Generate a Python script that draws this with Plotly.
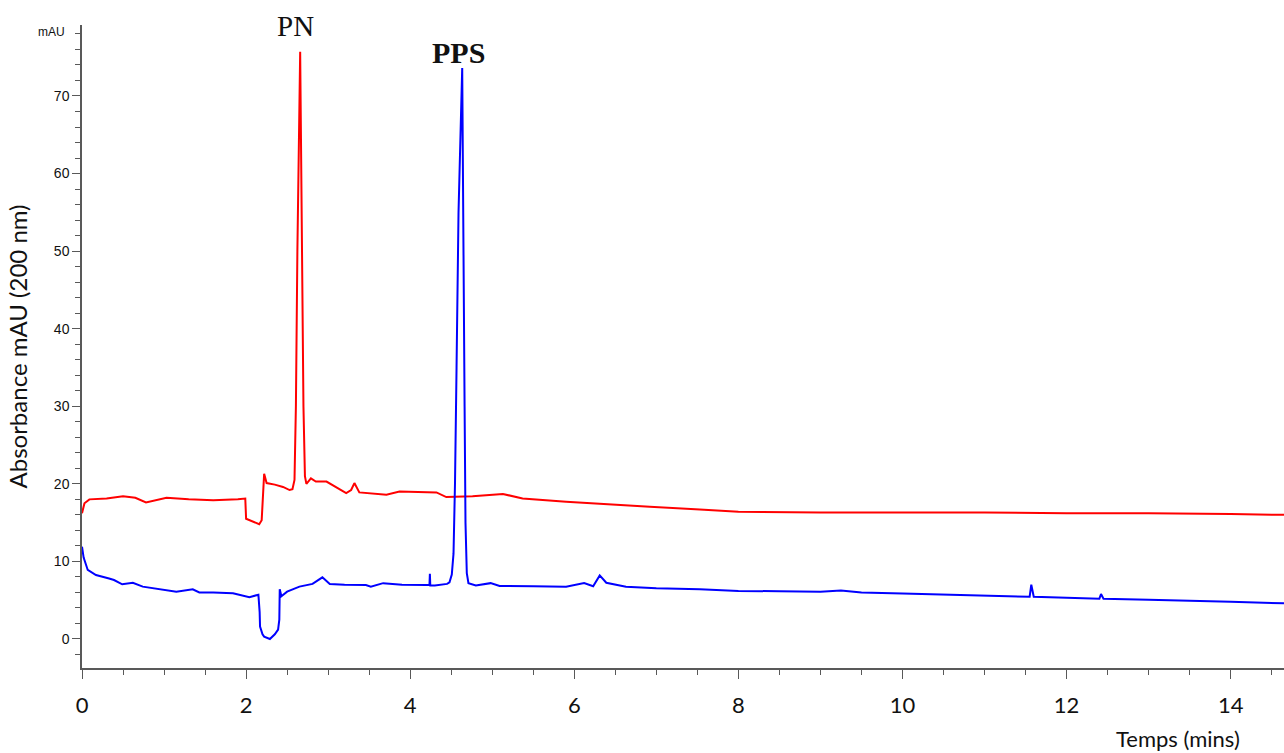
import plotly.graph_objects as go

# ---------------- data ----------------
red_t = [0, 0.03, 0.09, 0.3, 0.5, 0.65, 0.78, 0.9, 1.03, 1.3, 1.6, 1.9, 1.99, 2.0, 2.08, 2.16,
         2.19, 2.21, 2.22, 2.25, 2.35, 2.45, 2.53, 2.565, 2.59, 2.607, 2.625, 2.659, 2.68, 2.699,
         2.717, 2.735, 2.79, 2.85, 2.98, 3.1, 3.22, 3.28, 3.32, 3.38, 3.5, 3.71, 3.87, 4.1, 4.32,
         4.44, 4.76, 5.13, 5.37, 5.9, 6.31, 6.92, 7.53, 8.0, 9.0, 10.0, 11.0, 12.0, 13.0, 14.0, 14.65]
red_v = [16.2, 17.5, 18.0, 18.1, 18.4, 18.2, 17.6, 17.9, 18.2, 18.0, 17.9, 18.0, 18.1, 15.5, 15.2, 14.8,
         15.3, 19.0, 21.3, 20.1, 19.9, 19.6, 19.2, 19.3, 20.5, 30, 50, 75.7, 50, 30,
         21, 20.0, 20.7, 20.3, 20.3, 19.6, 18.8, 19.2, 20.1, 18.9, 18.8, 18.6, 19.0, 18.9, 18.9,
         18.3, 18.4, 18.7, 18.1, 17.7, 17.4, 17.05, 16.7, 16.4, 16.3, 16.3, 16.3, 16.2, 16.2, 16.1, 16.0]

blue_t = [0, 0.02, 0.07, 0.17, 0.33, 0.39, 0.49, 0.62, 0.74, 0.98, 1.15, 1.35, 1.43, 1.6, 1.84,
          2.04, 2.15, 2.165, 2.17, 2.2, 2.22, 2.29, 2.35, 2.39, 2.405, 2.41, 2.43, 2.5, 2.65, 2.81,
          2.93, 3.02, 3.2, 3.46, 3.52, 3.67, 3.9, 4.2, 4.235, 4.24, 4.245, 4.3, 4.45, 4.479, 4.507,
          4.528, 4.546, 4.565, 4.589, 4.634, 4.65, 4.663, 4.674, 4.69, 4.71, 4.8, 4.98, 5.09, 5.5,
          5.9, 6.12, 6.23, 6.31, 6.39, 6.63, 7.0, 7.53, 8.0, 8.5, 9.0, 9.25, 9.5, 10.0, 10.5, 11.0,
          11.55, 11.57, 11.6, 12.0, 12.4, 12.42, 12.45, 13.0, 13.5, 14.0, 14.65]
blue_v = [11.9, 10.5, 8.9, 8.25, 7.8, 7.6, 7.05, 7.25, 6.75, 6.4, 6.1, 6.4, 6.0, 6.0, 5.9,
          5.4, 5.7, 3.5, 1.6, 0.6, 0.3, 0.0, 0.6, 1.2, 2.5, 6.4, 5.5, 6.1, 6.75, 7.1,
          7.95, 7.1, 7.0, 6.96, 6.75, 7.2, 7.0, 6.96, 6.96, 8.4, 6.9, 6.9, 7.1, 7.3, 8.3,
          11, 20, 35, 55, 73.6, 55, 30, 15, 8.5, 7.2, 6.9, 7.2, 6.83, 6.8,
          6.75, 7.2, 6.8, 8.2, 7.25, 6.75, 6.55, 6.4, 6.2, 6.15, 6.1, 6.25, 6.0, 5.85, 5.75, 5.6,
          5.45, 7.0, 5.45, 5.3, 5.2, 5.8, 5.2, 5.05, 4.95, 4.8, 4.6]

y_tick_vals = [0, 10, 20, 30, 40, 50, 60, 70]
x_tick_vals = [0, 2, 4, 6, 8, 10, 12, 14]

# ---------------- figure ----------------
W, H = 1284, 753
L, R, T, B = 82, 0, 25, 85
pw, ph = W - L - R, H - T - B

fig = go.Figure()
fig.add_trace(go.Scatter(x=red_t, y=red_v, mode="lines",
                         line=dict(color="#ff0000", width=2), showlegend=False))
fig.add_trace(go.Scatter(x=blue_t, y=blue_v, mode="lines",
                         line=dict(color="#0000ff", width=2), showlegend=False))

axis_col = "#595959"
fig.update_layout(
    width=W, height=H,
    margin=dict(l=L, r=R, t=T, b=B, autoexpand=False),
    paper_bgcolor="white", plot_bgcolor="white",
    xaxis=dict(range=[0, 14.65], showgrid=False, zeroline=False,
               showline=True, linecolor=axis_col, linewidth=1.5,
               tickmode="array", tickvals=x_tick_vals,
               ticks="outside", ticklen=9, tickwidth=1.2, tickcolor=axis_col,
               ticklabelstandoff=8,
               tickfont=dict(family="Lato", size=22, color="#111111"),
               minor=dict(dtick=0.5, ticks="outside", ticklen=5, tickwidth=1.2,
                          tickcolor=axis_col, showgrid=False)),
    yaxis=dict(range=[-3.74, 79.15], showgrid=False, zeroline=False,
               showline=True, linecolor=axis_col, linewidth=1.5,
               tickmode="array", tickvals=y_tick_vals,
               ticks="outside", ticklen=8, tickwidth=1.2, tickcolor=axis_col,
               tickfont=dict(family="Liberation Sans", size=14, color="#111111"),
               minor=dict(dtick=2, ticks="outside", ticklen=5, tickwidth=1.2,
                          tickcolor=axis_col, showgrid=False),
               title=dict(text="Absorbance mAU (200 nm)", standoff=19,
                          font=dict(family="Lato", size=24, color="#111111"))),
)


def px_x(p):
    return (p - L) / pw


def px_y(p):
    return (H - B - p) / ph


fig.add_annotation(text="PN", x=2.60, y=78.96, xref="x", yref="y",
                   showarrow=False, xanchor="center", yanchor="middle",
                   font=dict(family="Liberation Serif", size=29, color="#111111"))
fig.add_annotation(text="<b>PPS</b>", x=4.59, y=75.6, xref="x", yref="y",
                   showarrow=False, xanchor="center", yanchor="middle",
                   font=dict(family="Liberation Serif", size=30, color="#111111"))
fig.add_annotation(text="mAU", x=px_x(67), y=px_y(32), xref="paper", yref="paper",
                   showarrow=False, xanchor="right", yanchor="middle",
                   font=dict(family="Liberation Sans", size=12, color="#111111"))
fig.add_annotation(text="Temps (mins)", x=px_x(1178), y=px_y(738), xref="paper", yref="paper",
                   showarrow=False, xanchor="center", yanchor="middle",
                   font=dict(family="Lato", size=22, color="#111111"))

fig.write_html("out.html")
